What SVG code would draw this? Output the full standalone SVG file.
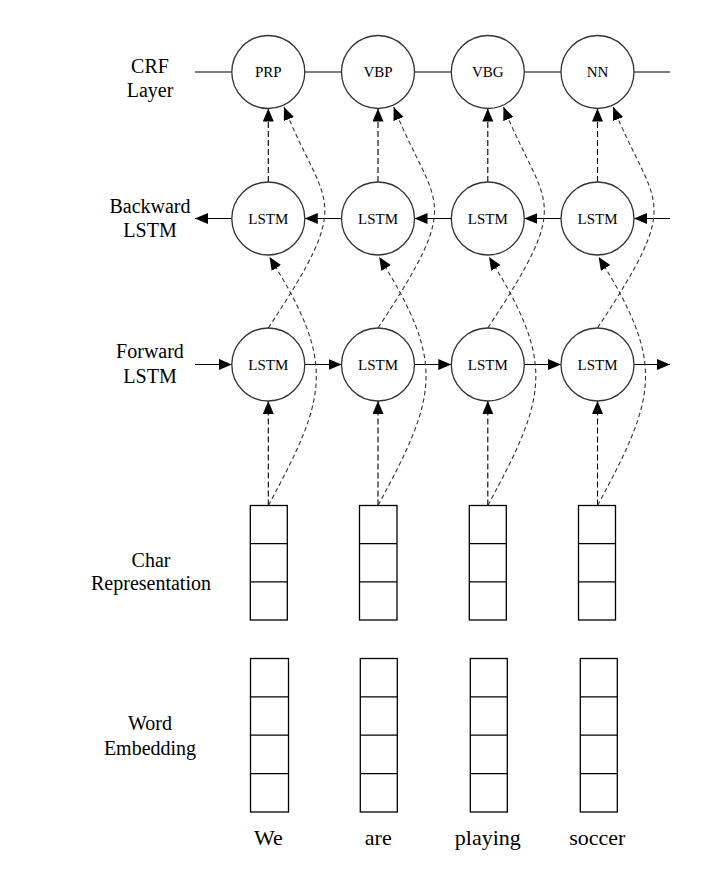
<svg xmlns="http://www.w3.org/2000/svg" width="712" height="886" viewBox="0 0 712 886">
<style>
.bg{fill:#fff}
.node circle{fill:#fff;stroke:#333;stroke-width:1.3}
.node text{font-family:"Liberation Serif","Times New Roman",serif;font-size:15px;fill:#000;text-anchor:middle}
.box rect,.box line{fill:#fff;stroke:#000;stroke-width:1.3}
.lbl{font-family:"Liberation Serif","Times New Roman",serif;font-size:20px;fill:#000;text-anchor:middle}
.word{font-family:"Liberation Serif","Times New Roman",serif;font-size:22px;fill:#000;text-anchor:middle}
.solid{stroke:#000;stroke-width:1.2;fill:none}
.arr{marker-end:url(#ah)}
.vdash{stroke:#000;stroke-width:1.1;stroke-dasharray:6 3;fill:none;marker-end:url(#ah)}
.cdash{stroke:#333;stroke-width:1.1;stroke-dasharray:4.5 3;fill:none;marker-end:url(#ah)}
</style>
<defs>
<marker id="ah" markerUnits="userSpaceOnUse" markerWidth="14" markerHeight="12" refX="13" refY="5.5" orient="auto">
<path d="M0,0 L13,5.5 L0,11 z" fill="#000"/>
</marker>
</defs>
<rect class="bg" x="0" y="0" width="712" height="886"/>

<g id="labels">
<text class="lbl" x="150" y="73">CRF</text>
<text class="lbl" x="150" y="97">Layer</text>
<text class="lbl" x="150" y="212.5">Backward</text>
<text class="lbl" x="150" y="236.5">LSTM</text>
<text class="lbl" x="150" y="358">Forward</text>
<text class="lbl" x="150" y="382.5">LSTM</text>
<text class="lbl" x="151" y="566.5">Char</text>
<text class="lbl" x="151" y="590">Representation</text>
<text class="lbl" x="150" y="730">Word</text>
<text class="lbl" x="150" y="754.5">Embedding</text>
</g>

<g id="connectors">
<line class="solid" x1="195" y1="72" x2="231.8" y2="72"/>
<line class="solid" x1="304.8" y1="72" x2="341.5" y2="72"/>
<line class="solid" x1="414.5" y1="72" x2="451.3" y2="72"/>
<line class="solid" x1="524.3" y1="72" x2="561" y2="72"/>
<line class="solid" x1="634" y1="72" x2="670" y2="72"/>
<line class="solid arr" x1="670" y1="218.5" x2="634" y2="218.5"/>
<line class="solid arr" x1="561" y1="218.5" x2="524.3" y2="218.5"/>
<line class="solid arr" x1="451.3" y1="218.5" x2="414.5" y2="218.5"/>
<line class="solid arr" x1="341.5" y1="218.5" x2="304.8" y2="218.5"/>
<line class="solid arr" x1="231.8" y1="218.5" x2="195" y2="218.5"/>
<line class="solid arr" x1="195" y1="364.5" x2="231.8" y2="364.5"/>
<line class="solid arr" x1="304.8" y1="364.5" x2="341.5" y2="364.5"/>
<line class="solid arr" x1="414.5" y1="364.5" x2="451.3" y2="364.5"/>
<line class="solid arr" x1="524.3" y1="364.5" x2="561" y2="364.5"/>
<line class="solid arr" x1="634" y1="364.5" x2="670" y2="364.5"/>
<line class="vdash" x1="268.3" y1="505.5" x2="268.3" y2="401"/>
<line class="vdash" x1="378" y1="505.5" x2="378" y2="401"/>
<line class="vdash" x1="487.8" y1="505.5" x2="487.8" y2="401"/>
<line class="vdash" x1="597.5" y1="505.5" x2="597.5" y2="401"/>
<line class="vdash" x1="268.3" y1="182" x2="268.3" y2="108.5"/>
<line class="vdash" x1="378" y1="182" x2="378" y2="108.5"/>
<line class="vdash" x1="487.8" y1="182" x2="487.8" y2="108.5"/>
<line class="vdash" x1="597.5" y1="182" x2="597.5" y2="108.5"/>
<path class="cdash" d="M268.3,328 C356,195 325.7,210.3 284,107"/>
<path class="cdash" d="M378,328 C465.7,195 435.4,210.3 393.7,107"/>
<path class="cdash" d="M487.8,328 C575.5,195 545.2,210.3 503.5,107"/>
<path class="cdash" d="M597.5,328 C685.2,195 654.9,210.3 613.2,107"/>
<path class="cdash" d="M268.3,505.5 C328.3,395 335.8,363.3 269.5,257"/>
<path class="cdash" d="M378,505.5 C438,395 445.5,363.3 379.2,257"/>
<path class="cdash" d="M487.8,505.5 C547.8,395 555.3,363.3 489,257"/>
<path class="cdash" d="M597.5,505.5 C657.5,395 665,363.3 598.7,257"/>
</g>

<g id="crf-prp" class="node"><circle cx="268.3" cy="72" r="36.5"/><text x="268.3" y="77">PRP</text></g>
<g id="crf-vbp" class="node"><circle cx="378" cy="72" r="36.5"/><text x="378" y="77">VBP</text></g>
<g id="crf-vbg" class="node"><circle cx="487.8" cy="72" r="36.5"/><text x="487.8" y="77">VBG</text></g>
<g id="crf-nn" class="node"><circle cx="597.5" cy="72" r="36.5"/><text x="597.5" y="77">NN</text></g>

<g id="bwd-1" class="node"><circle cx="268.3" cy="218.5" r="36.5"/><text x="268.3" y="223.5">LSTM</text></g>
<g id="bwd-2" class="node"><circle cx="378" cy="218.5" r="36.5"/><text x="378" y="223.5">LSTM</text></g>
<g id="bwd-3" class="node"><circle cx="487.8" cy="218.5" r="36.5"/><text x="487.8" y="223.5">LSTM</text></g>
<g id="bwd-4" class="node"><circle cx="597.5" cy="218.5" r="36.5"/><text x="597.5" y="223.5">LSTM</text></g>

<g id="fwd-1" class="node"><circle cx="268.3" cy="364.5" r="36.5"/><text x="268.3" y="369.5">LSTM</text></g>
<g id="fwd-2" class="node"><circle cx="378" cy="364.5" r="36.5"/><text x="378" y="369.5">LSTM</text></g>
<g id="fwd-3" class="node"><circle cx="487.8" cy="364.5" r="36.5"/><text x="487.8" y="369.5">LSTM</text></g>
<g id="fwd-4" class="node"><circle cx="597.5" cy="364.5" r="36.5"/><text x="597.5" y="369.5">LSTM</text></g>

<g id="char-1" class="box"><rect x="250.3" y="505.5" width="37" height="114.5"/><line x1="250.3" y1="543.7" x2="287.3" y2="543.7"/><line x1="250.3" y1="581.8" x2="287.3" y2="581.8"/></g>
<g id="char-2" class="box"><rect x="359.5" y="505.5" width="37.5" height="114.5"/><line x1="359.5" y1="543.7" x2="397" y2="543.7"/><line x1="359.5" y1="581.8" x2="397" y2="581.8"/></g>
<g id="char-3" class="box"><rect x="469.3" y="505.5" width="37" height="114.5"/><line x1="469.3" y1="543.7" x2="506.3" y2="543.7"/><line x1="469.3" y1="581.8" x2="506.3" y2="581.8"/></g>
<g id="char-4" class="box"><rect x="578.5" y="505.5" width="37" height="114.5"/><line x1="578.5" y1="543.7" x2="615.5" y2="543.7"/><line x1="578.5" y1="581.8" x2="615.5" y2="581.8"/></g>

<g id="word-1" class="box"><rect x="250.5" y="658.5" width="38" height="153.5"/><line x1="250.5" y1="696.9" x2="288.5" y2="696.9"/><line x1="250.5" y1="735.2" x2="288.5" y2="735.2"/><line x1="250.5" y1="773.6" x2="288.5" y2="773.6"/></g>
<g id="word-2" class="box"><rect x="360.3" y="658.5" width="37" height="153.5"/><line x1="360.3" y1="696.9" x2="397.3" y2="696.9"/><line x1="360.3" y1="735.2" x2="397.3" y2="735.2"/><line x1="360.3" y1="773.6" x2="397.3" y2="773.6"/></g>
<g id="word-3" class="box"><rect x="470.3" y="658.5" width="37" height="153.5"/><line x1="470.3" y1="696.9" x2="507.3" y2="696.9"/><line x1="470.3" y1="735.2" x2="507.3" y2="735.2"/><line x1="470.3" y1="773.6" x2="507.3" y2="773.6"/></g>
<g id="word-4" class="box"><rect x="580.3" y="658.5" width="37" height="153.5"/><line x1="580.3" y1="696.9" x2="617.3" y2="696.9"/><line x1="580.3" y1="735.2" x2="617.3" y2="735.2"/><line x1="580.3" y1="773.6" x2="617.3" y2="773.6"/></g>

<g id="words">
<text class="word" x="268.5" y="845">We</text>
<text class="word" x="378.3" y="845">are</text>
<text class="word" x="487.8" y="845">playing</text>
<text class="word" x="597.3" y="845">soccer</text>
</g>
</svg>
